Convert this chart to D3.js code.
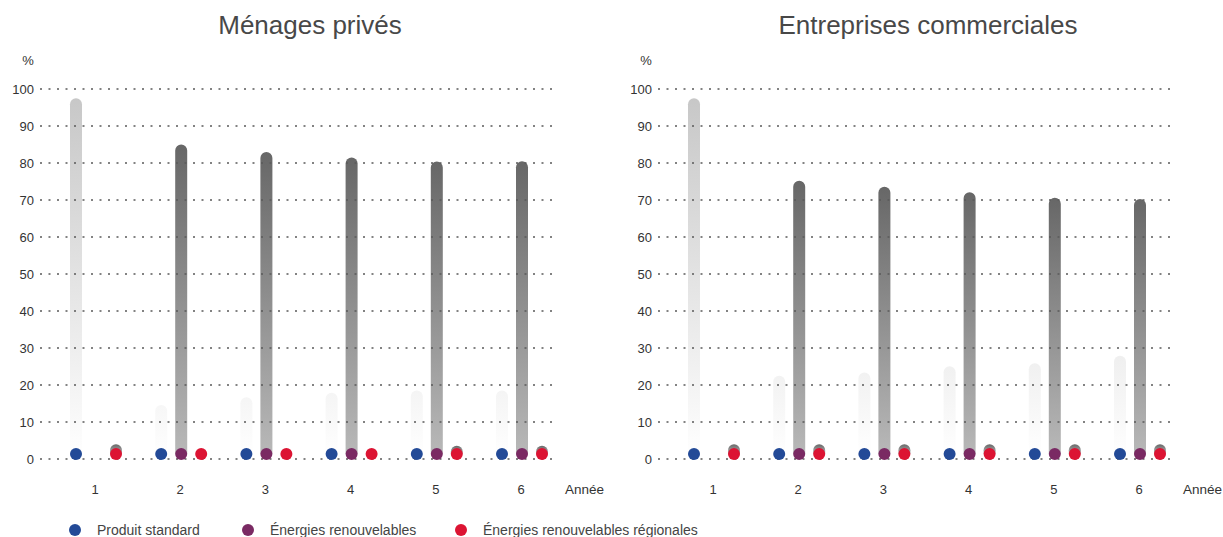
<!DOCTYPE html>
<html>
<head>
<meta charset="utf-8">
<script src="https://cdn.jsdelivr.net/npm/d3@7"></script>
<style>
  html, body { margin: 0; padding: 0; background: #fff; }
  svg { display: block; font-family: "Liberation Sans", Arial, Helvetica, sans-serif; }
</style>
</head>
<body>
<svg id="chart" width="1223" height="537"></svg>
<script>
// Years shown on the x axis
const years = [1, 2, 3, 4, 5, 6];
const seriesKeys = ["standard", "renouvelables", "regionales"];
const seriesNames = ["Produit standard", "Énergies renouvelables", "Énergies renouvelables régionales"];
const seriesColors = ["#234a97", "#7a2a63", "#dc1433"];
const panelTitles = ["Ménages privés", "Entreprises commerciales"];
const yTicks = [0, 10, 20, 30, 40, 50, 60, 70, 80, 90, 100];

// Shares in % per year (null = no offer that year)
const menagesStandard      = [97.5, 14.6, 16.7, 17.9, 18.5, 18.5];
const menagesRenouvelables = [null, 85.0, 83.0, 81.5, 80.4, 80.5];
const menagesRegionales    = [4.0, 0, 0, 0, 3.6, 3.6];

const entreprisesStandard      = [97.5, 22.5, 23.4, 25.1, 25.9, 27.9];
const entreprisesRenouvelables = [null, 75.2, 73.6, 72.1, 70.6, 70.3];
const entreprisesRegionales    = [4.0, 4.0, 4.0, 4.0, 4.0, 4.0];

const panels = [
  { title: panelTitles[0], left: 0,   values: [menagesStandard, menagesRenouvelables, menagesRegionales] },
  { title: panelTitles[1], left: 618, values: [entreprisesStandard, entreprisesRenouvelables, entreprisesRegionales] }
];

const svg = d3.select("#chart");
const y = d3.scaleLinear().domain([0, 100]).range([459, 89]);
const barW = 12, dotR = 6;
const dotY = y(0) - 5;

// Gradients: the standard bar fades over the whole plot height, the others per bar
const defs = svg.append("defs");
const gStd = defs.append("linearGradient").attr("id", "gradStd")
  .attr("gradientUnits", "userSpaceOnUse")
  .attr("x1", 0).attr("x2", 0).attr("y1", y(100)).attr("y2", y(0));
gStd.append("stop").attr("offset", 0).attr("stop-color", "#c6c6c6");
gStd.append("stop").attr("offset", 1).attr("stop-color", "#ffffff");

const gDark = defs.append("linearGradient").attr("id", "gradDark")
  .attr("x1", 0).attr("x2", 0).attr("y1", 0).attr("y2", 1);
gDark.append("stop").attr("offset", 0).attr("stop-color", "#676767");
gDark.append("stop").attr("offset", 1).attr("stop-color", "#b8b8b8");

const barFill = ["url(#gradStd)", "url(#gradDark)", "url(#gradDark)"];

// Bar with a rounded top, running down to the marker dot
function barPath(cx, top, bottom) {
  const r = barW / 2;
  const x0 = cx - r, x1 = cx + r;
  const t = Math.min(top + r, bottom);
  return `M${x0},${bottom} L${x0},${t} A${r},${r} 0 0 1 ${x1},${t} L${x1},${bottom} Z`;
}

panels.forEach(p => {
  const g = svg.append("g");
  const x = d3.scalePoint().domain(years).range([p.left + 95, p.left + 521]);
  const sub = d3.scaleBand().domain(seriesKeys).range([-29, 31]);
  const gridX0 = p.left + 40, gridX1 = p.left + 553;

  // Title
  g.append("text")
    .attr("x", p.left + 310).attr("y", 34)
    .attr("text-anchor", "middle")
    .attr("font-size", 26).attr("fill", "#484848")
    .text(p.title);

  // Unit label
  g.append("text")
    .attr("x", p.left + 28).attr("y", 65)
    .attr("text-anchor", "middle")
    .attr("font-size", 13).attr("fill", "#333")
    .text("%");

  // Bars
  const bars = g.append("g");
  p.values.forEach((vals, si) => {
    bars.selectAll(null)
      .data(years.map((yr, i) => ({ yr, v: vals[i] })).filter(d => d.v != null && y(d.v) < dotY))
      .join("path")
      .attr("d", d => barPath(x(d.yr) + sub.bandwidth() / 2 + sub(seriesKeys[si]), y(d.v), dotY))
      .attr("fill", barFill[si]);
  });

  // Dotted grid lines, drawn over the bars
  g.append("g").selectAll("line")
    .data(yTicks)
    .join("line")
    .attr("x1", gridX0).attr("x2", gridX1)
    .attr("y1", d => y(d)).attr("y2", d => y(d))
    .attr("stroke", "#5a5a5a")
    .attr("stroke-width", 1.3)
    .attr("stroke-dasharray", "2,6.5");

  // Y tick labels
  g.append("g").selectAll("text")
    .data(yTicks)
    .join("text")
    .attr("x", p.left + 34).attr("y", d => y(d) + 4.5)
    .attr("text-anchor", "end")
    .attr("font-size", 13).attr("fill", "#333")
    .text(d => d);

  // Marker dots at the foot of each bar
  const dots = g.append("g");
  p.values.forEach((vals, si) => {
    dots.selectAll(null)
      .data(years.map((yr, i) => ({ yr, v: vals[i] })).filter(d => d.v != null))
      .join("circle")
      .attr("cx", d => x(d.yr) + sub.bandwidth() / 2 + sub(seriesKeys[si]))
      .attr("cy", dotY)
      .attr("r", dotR)
      .attr("fill", seriesColors[si]);
  });

  // X axis labels
  g.append("g").selectAll("text")
    .data(years)
    .join("text")
    .attr("x", d => x(d)).attr("y", 494)
    .attr("text-anchor", "middle")
    .attr("font-size", 13).attr("fill", "#333")
    .text(d => d);

  g.append("text")
    .attr("x", p.left + 565).attr("y", 494)
    .attr("font-size", 13.5).attr("fill", "#333")
    .text("Année");
});

// Legend
const legendX = [75, 248, 461];
const legend = svg.append("g");
seriesNames.forEach((name, i) => {
  legend.append("circle")
    .attr("cx", legendX[i]).attr("cy", 530).attr("r", dotR).attr("fill", seriesColors[i]);
  legend.append("text")
    .attr("x", legendX[i] + 22).attr("y", 535)
    .attr("font-size", 14).attr("fill", "#444")
    .text(name);
});
</script>
</body>
</html>
